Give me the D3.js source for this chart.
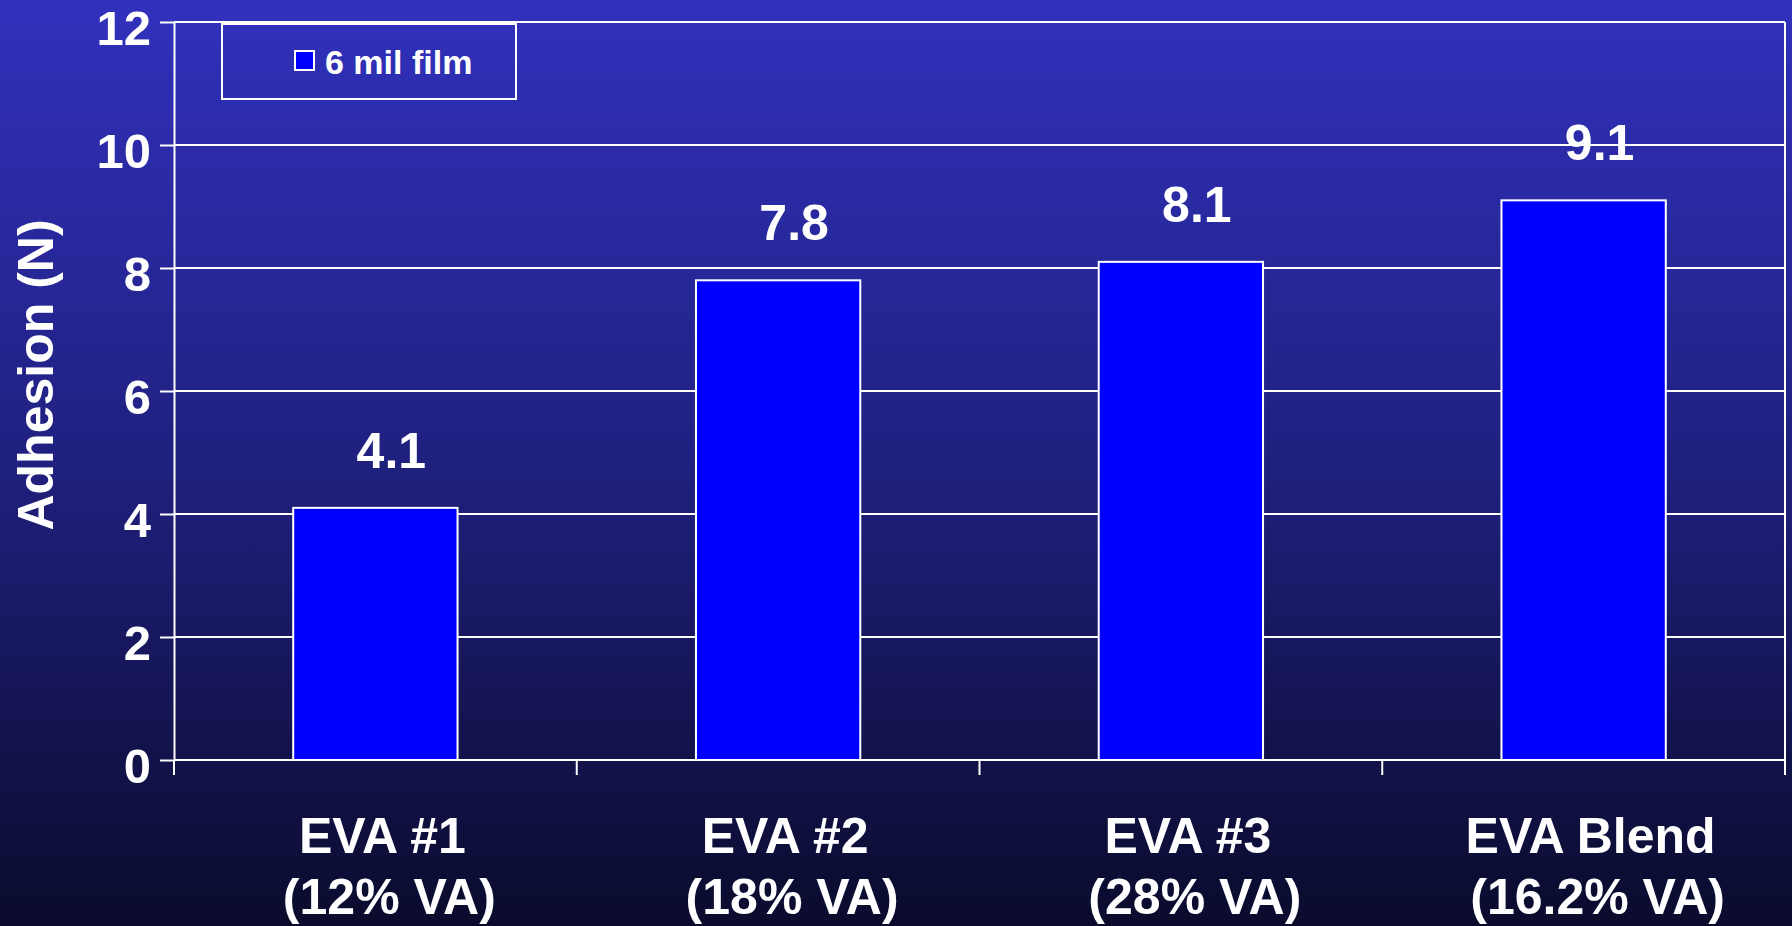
<!DOCTYPE html>
<html>
<head>
<meta charset="utf-8">
<script src="https://cdn.jsdelivr.net/npm/d3@7"></script>
<style>
  html, body { margin: 0; padding: 0; overflow: hidden; background: #0b0b2e; }
  svg { display: block; }
  text { font-family: "Liberation Sans", Arial, sans-serif; font-weight: bold; fill: #ffffff; }
</style>
</head>
<body>
<svg id="chart" width="1792" height="926"></svg>
<script>
// Adhesion of 6 mil EVA films
const categoryLine1 = ["EVA #1", "EVA #2", "EVA #3", "EVA Blend"];
const categoryLine2 = ["(12% VA)", "(18% VA)", "(28% VA)", "(16.2% VA)"];
const adhesion = [4.1, 7.8, 8.1, 9.1];
const yTicks = [0, 2, 4, 6, 8, 10, 12];
const seriesName = "6 mil film";
const yTitle = "Adhesion (N)";

const W = 1792, H = 926;
const plot = { left: 174, right: 1785, top: 22, bottom: 760 };

const svg = d3.select("#chart");

// background: vertical blue gradient
const defs = svg.append("defs");
const grad = defs.append("linearGradient")
  .attr("id", "bg").attr("x1", 0).attr("y1", 0).attr("x2", 0).attr("y2", 1);
grad.append("stop").attr("offset", "0%").attr("stop-color", "#3131bd");
grad.append("stop").attr("offset", "50%").attr("stop-color", "#20207f");
grad.append("stop").attr("offset", "100%").attr("stop-color", "#0a0b2c");
svg.append("rect").attr("width", W).attr("height", H).attr("fill", "url(#bg)");

const x = d3.scaleBand()
  .domain(categoryLine1)
  .range([plot.left, plot.right])
  .paddingInner(0.592)
  .paddingOuter(0.296);

const slot = d3.scaleBand()
  .domain(categoryLine1)
  .range([plot.left, plot.right])
  .padding(0);

const y = d3.scaleLinear().domain([0, 12]).range([plot.bottom, plot.top]);

// horizontal gridlines
svg.append("g")
  .selectAll("line")
  .data(yTicks.filter(d => d > 0))
  .join("line")
  .attr("x1", plot.left).attr("x2", plot.right)
  .attr("y1", d => y(d)).attr("y2", d => y(d))
  .attr("stroke", "#ffffff").attr("stroke-width", 2);

// right frame edge
svg.append("line")
  .attr("x1", plot.right).attr("x2", plot.right)
  .attr("y1", y(12)).attr("y2", y(0))
  .attr("stroke", "#ffffff").attr("stroke-width", 2);

// bars
svg.append("g")
  .selectAll("rect")
  .data(adhesion)
  .join("rect")
  .attr("x", (d, i) => x(categoryLine1[i]))
  .attr("width", x.bandwidth())
  .attr("y", d => y(d))
  .attr("height", d => y(0) - y(d))
  .attr("fill", "#0000ff")
  .attr("stroke", "#ffffff")
  .attr("stroke-width", 2);

// value labels
svg.append("g")
  .selectAll("text")
  .data(adhesion)
  .join("text")
  .attr("x", (d, i) => x(categoryLine1[i]) + x.bandwidth() / 2 + 16)
  .attr("y", d => y(d) - 40)
  .attr("text-anchor", "middle")
  .attr("font-size", 50)
  .text(d => d.toFixed(1));

// y axis
const yAxis = svg.append("g")
  .attr("transform", `translate(${plot.left},0)`)
  .call(d3.axisLeft(y).tickValues(yTicks).tickSize(14).tickSizeOuter(0).tickPadding(9));
yAxis.select(".domain").attr("stroke", "#ffffff").attr("stroke-width", 2);
yAxis.selectAll(".tick line").attr("stroke", "#ffffff").attr("stroke-width", 2);
yAxis.selectAll(".tick text")
  .attr("fill", "#ffffff")
  .attr("font-family", "'Liberation Sans', Arial, sans-serif")
  .attr("font-weight", "bold")
  .attr("font-size", 49)
  .attr("dy", "0.46em");

// x axis: baseline with ticks at category boundaries
svg.append("line")
  .attr("x1", plot.left).attr("x2", plot.right)
  .attr("y1", y(0)).attr("y2", y(0))
  .attr("stroke", "#ffffff").attr("stroke-width", 2);
const boundaries = categoryLine1.map(c => slot(c)).concat([plot.right]);
svg.append("g")
  .selectAll("line")
  .data(boundaries)
  .join("line")
  .attr("x1", d => d).attr("x2", d => d)
  .attr("y1", y(0)).attr("y2", y(0) + 15)
  .attr("stroke", "#ffffff").attr("stroke-width", 2);

// category labels (two lines)
const catG = svg.append("g")
  .selectAll("text")
  .data(categoryLine1)
  .join("text")
  .attr("text-anchor", "middle")
  .attr("font-size", 50);
catG.append("tspan")
  .attr("x", d => slot(d) + slot.bandwidth() / 2 + 7)
  .attr("y", 853)
  .text(d => d);
catG.append("tspan")
  .attr("x", d => slot(d) + slot.bandwidth() / 2 + 14)
  .attr("y", 914)
  .text((d, i) => categoryLine2[i]);

// y axis title
svg.append("text")
  .attr("transform", "translate(53,375) rotate(-90)")
  .attr("text-anchor", "middle")
  .attr("font-size", 50)
  .text(yTitle);

// legend
const legend = svg.append("g");
legend.append("rect")
  .attr("x", 222).attr("y", 24).attr("width", 294).attr("height", 75)
  .attr("fill", "none").attr("stroke", "#ffffff").attr("stroke-width", 2);
legend.append("rect")
  .attr("x", 295).attr("y", 51).attr("width", 19).attr("height", 19)
  .attr("fill", "#0000ff").attr("stroke", "#ffffff").attr("stroke-width", 2);
legend.append("text")
  .attr("x", 325).attr("y", 74)
  .attr("font-size", 34)
  .text(seriesName);
</script>
</body>
</html>
